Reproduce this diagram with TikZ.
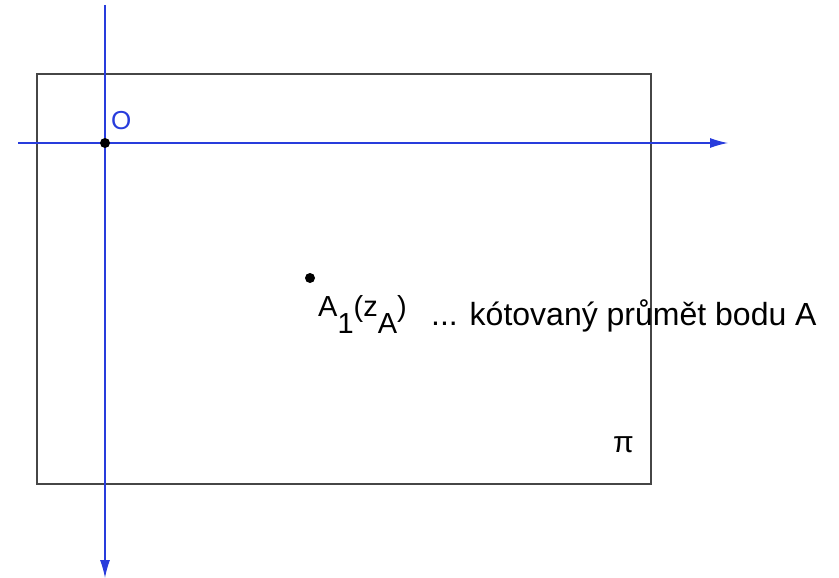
\documentclass[tikz,border=0pt]{standalone}
\usepackage{fontspec}
\setmainfont{Liberation Sans}
\usetikzlibrary{arrows.meta}
\definecolor{axisblue}{RGB}{40,60,220}
\definecolor{framegray}{RGB}{70,70,70}
\tikzset{
  axis/.style={draw=axisblue, line width=1.2pt, -{Latex[length=18pt,width=10pt]}},
  frame/.style={draw=framegray, line width=1.4pt},
  pt/.style={circle, fill=black, inner sep=0pt, minimum size=10pt},
  lbl/.style={inner sep=0pt, font=\fontsize{29}{32}\selectfont}
}
\begin{document}
\begin{tikzpicture}[x=1pt,y=-1pt]
\useasboundingbox (0,0) rectangle (839,578);
\draw[frame] (37,74) rectangle (651,484);
\coordinate (hs) at (18,143);
\coordinate (he) at (728,143);
\coordinate (vs) at (105,5);
\coordinate (ve) at (105,578);
\draw[axis] (hs) -- (he);
\draw[axis] (vs) -- (ve);
\node[pt] (O) at (105,143) {};
\node[lbl, text=axisblue, anchor=base west] (Olbl) at (111,130) {\fontsize{26}{28}\selectfont O};
\node[pt] (A) at (310,278) {};
\node[lbl, anchor=base west] (Albl) at (318,316) {A\raisebox{-17pt}{1}(z\raisebox{-17pt}{A})};
\node[lbl, anchor=base west] (Atxt) at (431,325) {\fontsize{32}{35}\selectfont ... kótovaný průmět bodu A};
\node[lbl, anchor=base west] (pi) at (613,452) {\fontsize{30}{32}\selectfont π};
\end{tikzpicture}
\end{document}
